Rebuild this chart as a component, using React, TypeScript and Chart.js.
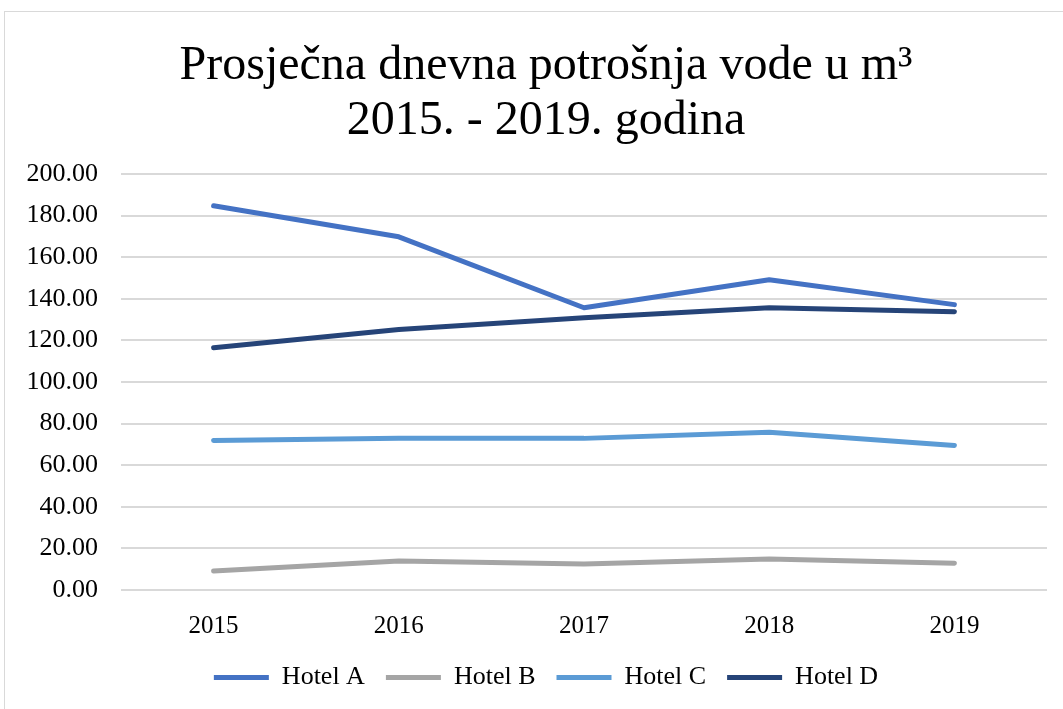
import React, { useEffect, useRef } from "react";
import { Chart, registerables } from "chart.js";

Chart.register(...registerables);

const years = ["2015", "2016", "2017", "2018", "2019"];
const seriesNames = ["Hotel A", "Hotel B", "Hotel C", "Hotel D"];
const hotelA = [184.7, 169.8, 135.7, 149.2, 137.2];
const hotelB = [9.1, 13.9, 12.5, 14.9, 12.9];
const hotelC = [71.9, 72.9, 72.9, 75.8, 69.5];
const hotelD = [116.5, 125.2, 130.9, 135.7, 133.8];
const seriesColors = ["#4472C4", "#A5A5A5", "#5B9BD5", "#264478"];
const titleLines = ["Prosječna dnevna potrošnja vode u m³", "2015. - 2019. godina"];

const FONT = "'Liberation Serif', 'Times New Roman', serif";

export default function App() {
  const ref = useRef<HTMLCanvasElement | null>(null);

  useEffect(() => {
    if (!ref.current) return;
    const values = [hotelA, hotelB, hotelC, hotelD];
    const chart = new Chart(ref.current, {
      type: "line",
      data: {
        labels: years,
        datasets: seriesNames.map((name, i) => ({
          label: name,
          data: values[i],
          borderColor: seriesColors[i],
          backgroundColor: seriesColors[i],
          borderWidth: 5,
          borderCapStyle: "round",
          borderJoinStyle: "round",
          pointRadius: 0,
          pointHoverRadius: 0,
          tension: 0,
          fill: false,
          yAxisID: "y",
        })),
      },
      options: {
        responsive: false,
        animation: false,
        layout: { padding: { left: 22, right: -7, top: 0, bottom: 8.5 } },
        plugins: {
          title: {
            display: true,
            text: titleLines,
            color: "#000",
            font: { family: FONT, size: 48, weight: "normal", lineHeight: 1.146 },
            padding: { top: 38.5, bottom: 25.5 },
          },
          legend: {
            position: "bottom",
            labels: {
              usePointStyle: true,
              pointStyle: "line",
              pointStyleWidth: 55,
              boxWidth: 55,
              padding: 21,
              color: "#000",
              font: { family: FONT, size: 26 },
            },
          },
          tooltip: { enabled: false },
        },
        scales: {
          x: {
            offset: true,
            afterFit: (scale: any) => {
              scale.height = 53.5;
            },
            grid: { display: false, drawTicks: false },
            border: { display: false },
            ticks: {
              color: "#000",
              padding: 21.5,
              maxRotation: 0,
              font: { family: FONT, size: 25 },
            },
          },
          y: {
            min: 0,
            max: 200,
            afterFit: (scale: any) => {
              scale.width = 99;
            },
            grid: { color: "#d9d9d9", lineWidth: 2, drawTicks: false },
            border: { display: false },
            ticks: {
              stepSize: 20,
              color: "#000",
              padding: 23,
              font: { family: FONT, size: 26 },
              callback: (v: any) => Number(v).toFixed(2),
            },
          },
          yRight: {
            position: "right",
            display: true,
            afterFit: (scale: any) => {
              scale.width = 23;
            },
            grid: { display: false, drawTicks: false },
            border: { display: false },
            ticks: { display: false },
          },
        },
      },
    });
    return () => chart.destroy();
  }, []);

  return (
    <div
      style={{
        position: "fixed",
        left: 0,
        top: 0,
        width: 1063,
        height: 709,
        overflow: "hidden",
        background: "#fff",
      }}
    >
      <div
        style={{
          position: "absolute",
          left: 4,
          top: 11,
          width: 1100,
          height: 750,
          border: "1px solid #d9d9d9",
        }}
      />
      <canvas
        ref={ref}
        width={1063}
        height={709}
        style={{ position: "absolute", left: 0, top: 0, display: "block" }}
      />
    </div>
  );
}
